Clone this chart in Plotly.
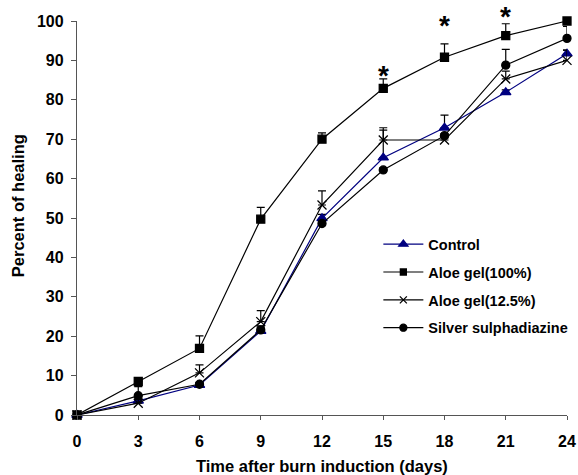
import plotly.graph_objects as go

# Days after burn induction
days = [0, 3, 6, 9, 12, 15, 18, 21, 24]

# Mean percent of wound healing per group
control = [0, 3.6, 7.6, 21.3, 49.9, 65.3, 72.9, 81.9, 91.7]
aloe_100 = [0, 8.5, 16.9, 49.7, 70.0, 82.9, 90.8, 96.3, 100.0]
aloe_12_5 = [0, 3.0, 10.7, 23.7, 53.3, 69.8, 69.8, 85.3, 90.0]
silver = [0, 4.9, 7.8, 21.6, 48.6, 62.2, 70.9, 88.8, 95.6]

# Upper error (SE) per group
control_err = [0, 0.5, 0.5, 1.0, 1.0, 7.0, 3.2, 0.6, 0.9]
aloe_100_err = [0, 0.4, 3.2, 3.0, 1.6, 2.4, 3.4, 3.0, 0]
aloe_12_5_err = [0, 1.0, 2.0, 2.8, 3.6, 3.1, 0.5, 2.0, 2.6]
silver_err = [0, 2.3, 0.5, 1.0, 0.6, 0.5, 0.5, 4.0, 3.0]

# Significance marks over the 100% aloe gel curve (day, height in %)
sig_days = [15, 18, 21]
sig_heights = [87.7, 100.3, 102.6]
sig_label = "*"

Y_RANGE = [0, 100]

FONT = "Liberation Sans, Arial, sans-serif"
NAVY = "#000080"
AXIS = "#555555"

# name, values, errors, colour, marker, plot marker size, legend marker size
series = [
    ("Control", control, control_err, NAVY, "triangle-up", 9, 8),
    ("Aloe gel(100%)", aloe_100, aloe_100_err, "black", "square", 8, 6),
    ("Aloe gel(12.5%)", aloe_12_5, aloe_12_5_err, "black", "x-thin-open", 9, 7),
    ("Silver sulphadiazine", silver, silver_err, "black", "circle", 8, 7),
]

fig = go.Figure()
for name, vals, err, color, symbol, size, _ in series:
    fig.add_trace(go.Scatter(
        x=days, y=vals, name=name, mode="lines+markers",
        showlegend=False,
        line=dict(color=color, width=1.2),
        marker=dict(symbol=symbol, size=size, color=color,
                    line=dict(color=color, width=1.3)),
        error_y=dict(type="data", array=err, arrayminus=[0] * len(err),
                     symmetric=False, color="black", thickness=1.2, width=4),
        cliponaxis=False,
    ))

# Legend entries with smaller key markers
for name, _, _, color, symbol, _, lsize in series:
    fig.add_trace(go.Scatter(
        x=[None], y=[None], name=name, mode="lines+markers",
        legendgroup=name,
        line=dict(color=color, width=1.2),
        marker=dict(symbol=symbol, size=lsize, color=color,
                    line=dict(color=color, width=1.3)),
    ))

# Asterisks; heights above 100 % lie past the axis range, so place them
# in paper coordinates derived from the y range
for d, h in zip(sig_days, sig_heights):
    fig.add_annotation(
        x=d, xref="x", yref="paper",
        y=(h - Y_RANGE[0]) / (Y_RANGE[1] - Y_RANGE[0]),
        text=sig_label, showarrow=False, yanchor="middle", yshift=-6,
        font=dict(family=FONT, size=28, color="black", weight="bold"),
    )

# Axis titles
fig.add_annotation(
    text="Time after burn induction (days)", showarrow=False,
    xref="paper", yref="paper", x=0.5, y=0, yanchor="middle", yshift=-51,
    font=dict(family=FONT, size=16.5, color="black", weight="bold"),
)
fig.add_annotation(
    text="Percent of healing", showarrow=False, textangle=-90,
    xref="paper", yref="paper", x=0, y=0.53, xanchor="center",
    yanchor="middle", xshift=-59,
    font=dict(family=FONT, size=16.5, color="black", weight="bold"),
)

fig.update_layout(
    width=578, height=475,
    margin=dict(l=77, r=11, t=21, b=60, autoexpand=False),
    paper_bgcolor="white", plot_bgcolor="white",
    font=dict(family=FONT, color="black"),
    showlegend=True,
    legend=dict(
        x=0.615, y=0.474, xanchor="left", yanchor="top",
        bgcolor="rgba(0,0,0,0)", borderwidth=0,
        font=dict(family=FONT, size=14.5, color="black", weight="bold"),
        tracegroupgap=6, itemwidth=40,
    ),
    xaxis=dict(
        range=[0, 24], tickvals=days, ticktext=[str(d) for d in days],
        showgrid=False, zeroline=False, automargin=False,
        showline=True, linecolor=AXIS, linewidth=1.3,
        ticks="outside", ticklen=4, tickcolor=AXIS, tickwidth=1,
        ticklabelstandoff=8,
        tickfont=dict(family=FONT, size=16, color="black", weight="bold"),
    ),
    yaxis=dict(
        range=Y_RANGE, tickvals=list(range(0, 101, 10)),
        showgrid=False, zeroline=False, automargin=False,
        showline=True, linecolor=AXIS, linewidth=1.3,
        ticks="outside", ticklen=5, tickcolor=AXIS, tickwidth=1,
        ticklabelstandoff=4,
        tickfont=dict(family=FONT, size=16, color="black", weight="bold"),
    ),
)

fig.write_html("out.html")
